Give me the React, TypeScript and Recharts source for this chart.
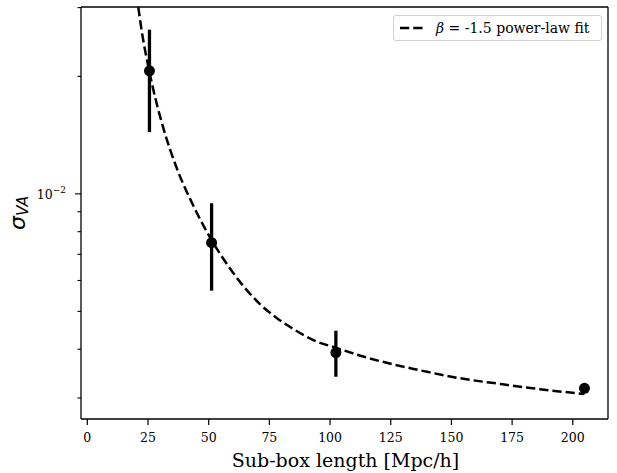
import {
  ComposedChart,
  ErrorBar,
  Legend,
  Line,
  ReferenceLine,
  Scatter,
  XAxis,
  YAxis,
} from "recharts";

// fitted curve
const fitX = [
  21.0, 22.4, 25.4, 28.6, 31.3, 36.8, 43.7, 49.7, 55.3, 62.9, 71.1, 78.0, 84.8,
  93.1, 102.7, 113.7, 124.6, 135.6, 153.5, 169.9, 186.4, 204.8,
];
const fitY = [
  0.0301, 0.02617, 0.02079, 0.01701, 0.01476, 0.01166, 0.00932, 0.0079,
  0.00693, 0.00595, 0.00522, 0.00481, 0.00451, 0.00422, 0.00403, 0.00383,
  0.003675, 0.003548, 0.00337, 0.00326, 0.00316, 0.00307,
];

// measured points with error bar ends
const boxLength = [25.6, 51.2, 102.4, 204.8];
const sigmaVA = [0.02067, 0.0075, 0.00392, 0.003175];
const errLow = [0.01439, 0.00565, 0.0034, 0.003175];
const errHigh = [0.02634, 0.00946, 0.00446, 0.003175];

const xTicks = [0, 25, 50, 75, 100, 125, 150, 175, 200];
const yTicks = [
  0.003, 0.004, 0.005, 0.006, 0.007, 0.008, 0.009, 0.01, 0.02, 0.03,
];

const xDomain = [-2.6, 214.5];
const yDomain = [0.00265, 0.03011];

const fitData = fitX.map((x, i) => ({ x, y: fitY[i] }));
const pointData = boxLength.map((x, i) => ({
  x,
  y: sigmaVA[i],
  err: [sigmaVA[i] - errLow[i], errHigh[i] - sigmaVA[i]],
}));

const serif = '"DejaVu Serif", serif';

const XTick = (props: any) => {
  const { x, y, payload } = props;
  return (
    <g>
      <line x1={x} x2={x} y1={y} y2={y + 6} stroke="#000" strokeWidth={1.2} />
      <text
        x={x}
        y={y + 23}
        textAnchor="middle"
        fontFamily={serif}
        fontSize={12.5}
        fill="#000"
      >
        {payload.value}
      </text>
    </g>
  );
};

const YTick = (props: any) => {
  const { x, y, payload } = props;
  const major = payload.value === 0.01;
  return (
    <g>
      <line
        x1={x}
        x2={x - (major ? 6 : 3.5)}
        y1={y}
        y2={y}
        stroke="#000"
        strokeWidth={1.1}
      />
      {major && (
        <text
          x={x - 15}
          y={y + 5}
          textAnchor="end"
          fontFamily={serif}
          fontSize={12.5}
          fill="#000"
        >
          10
          <tspan dy={-5.5} fontSize={9}>
            −2
          </tspan>
        </text>
      )}
    </g>
  );
};

const XLabel = (props: any) => {
  const { x, y, width } = props.viewBox;
  return (
    <text
      x={x + width / 2 + 1}
      y={y + 48}
      textAnchor="middle"
      fontFamily={serif}
      fontSize={19}
      fill="#000"
    >
      Sub-box length [Mpc/h]
    </text>
  );
};

const YLabel = (props: any) => {
  const { y, height } = props.viewBox;
  const cx = 25;
  const cy = y + height / 2;
  return (
    <text
      x={cx}
      y={cy}
      transform={`rotate(-90, ${cx}, ${cy})`}
      textAnchor="middle"
      fontFamily="DejaVu Sans"
      fontStyle="italic"
      fontSize={22}
      fill="#000"
    >
      σ
      <tspan dy={3} fontSize={15.4}>
        VA
      </tspan>
    </text>
  );
};

const renderLegend = () => (
  <div
    style={{
      boxSizing: "border-box",
      width: 209,
      height: 26,
      border: "1px solid #d0d0d0",
      borderRadius: 3,
      background: "rgba(255,255,255,0.8)",
      display: "flex",
      alignItems: "center",
      paddingLeft: 6,
      fontFamily: serif,
      fontSize: 14,
      color: "#000",
      whiteSpace: "nowrap",
    }}
  >
    <svg width={26} height={10} style={{ display: "block" }}>
      <line
        x1={0}
        x2={26}
        y1={5}
        y2={5}
        stroke="#000"
        strokeWidth={2.5}
        strokeDasharray="9.25 4"
      />
    </svg>
    <span style={{ marginLeft: 10, fontFamily: serif }}>
      <i>β</i> = -1.5 power-law fit
    </span>
  </div>
);

const App = () => {
  return (
    <div style={{ position: "absolute", left: 0, top: 0, background: "#fff" }}>
      <ComposedChart
        width={617}
        height={473}
        margin={{ top: 7, right: 9, bottom: 0, left: 0 }}
      >
        <XAxis
          xAxisId="b"
          type="number"
          dataKey="x"
          domain={xDomain}
          allowDataOverflow
          ticks={xTicks}
          interval={0}
          height={54}
          tick={<XTick />}
          tickLine={false}
          tickSize={0}
          tickMargin={0}
          axisLine={{ stroke: "#000", strokeWidth: 1.3 }}
          label={<XLabel />}
        />
        <YAxis
          yAxisId="l"
          type="number"
          scale="log"
          dataKey="y"
          domain={yDomain}
          allowDataOverflow
          ticks={yTicks}
          interval={0}
          width={81}
          tick={<YTick />}
          tickLine={false}
          tickSize={0}
          tickMargin={0}
          axisLine={{ stroke: "#000", strokeWidth: 1.3 }}
          label={<YLabel />}
        />
        <ReferenceLine
          xAxisId="b"
          yAxisId="l"
          y={yDomain[1]}
          stroke="#000"
          strokeWidth={1.3}
          ifOverflow="visible"
        />
        <ReferenceLine
          xAxisId="b"
          yAxisId="l"
          x={xDomain[1]}
          stroke="#000"
          strokeWidth={1.3}
          ifOverflow="visible"
        />
        <Line
          xAxisId="b"
          yAxisId="l"
          data={fitData}
          dataKey="y"
          type="monotone"
          stroke="#000"
          strokeWidth={2.5}
          strokeDasharray="9.25 4"
          dot={false}
          activeDot={false}
          isAnimationActive={false}
          legendType="none"
        />
        <Scatter
          xAxisId="b"
          yAxisId="l"
          data={pointData}
          dataKey="y"
          fill="#000"
          shape={(p: any) => <circle cx={p.cx} cy={p.cy} r={5.5} fill="#000" />}
          isAnimationActive={false}
          legendType="none"
        >
          <ErrorBar
            dataKey="err"
            direction="y"
            width={0}
            stroke="#000"
            strokeWidth={3.3}
            isAnimationActive={false}
          />
        </Scatter>
        <Legend
          layout="horizontal"
          verticalAlign="middle"
          align="center"
          wrapperStyle={{ top: 15, left: 393, width: 209, height: 26 }}
          content={renderLegend}
        />
      </ComposedChart>
    </div>
  );
};

export default App;
